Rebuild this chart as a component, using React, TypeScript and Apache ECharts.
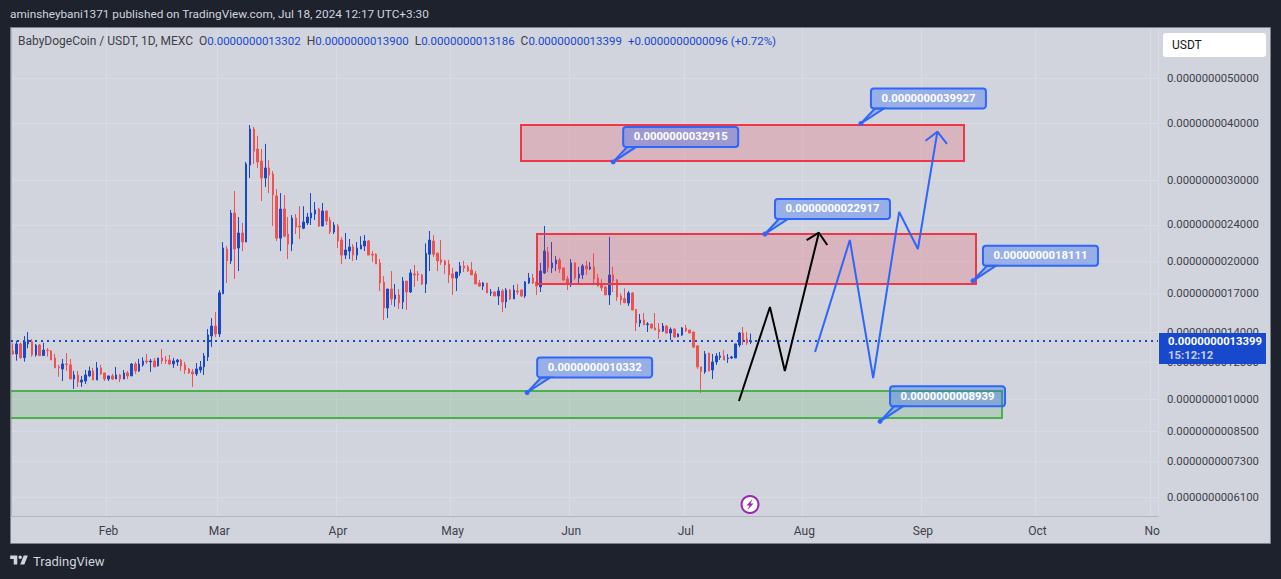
import React, { useEffect, useRef } from "react";
import * as echarts from "echarts";

// prices are in units of 1e-13 USDT, so 13399 reads 0.0000000013399
const PRICE_UNIT_DIGITS = 13;
const priceText = (v: number) => (v / 1e13).toFixed(PRICE_UNIT_DIGITS);

const opens = [12725,12540,13185,12310,13185,13340,12480,13120,12440,12790,12725,12290,11750,11630,11925,11870,11055,11285,10890,10945,11230,11515,11000,11690,11400,11055,11230,11055,11285,11055,11400,11230,11925,11515,11870,12105,12045,12105,11810,12290,12165,12165,11925,12045,12165,11870,11630,11460,11345,11570,11750,12355,13725,14430,13865,16970,21250,20010,25460,21360,23030,22010,32400,38830,35130,33060,30360,31930,30970,27740,22440,25980,22910,21780,24830,23850,23590,24220,24830,25330,25980,23850,25720,24580,23140,23850,22230,20610,21030,21470,20610,21250,21570,22120,20690,20690,19810,17990,15800,17380,16530,16870,16290,18090,17120,18750,18750,18650,17820,20700,22120,20800,20110,20010,19710,18750,18370,18840,19520,19420,19120,18750,17910,17640,17910,17030,17120,16780,17210,16290,17290,16530,17210,17290,16780,17910,18370,18000,17560,18840,20900,19320,19710,20110,19320,18280,17730,19810,18370,18650,19520,19220,19420,18370,17820,17560,16870,18650,18180,16790,16560,16200,17040,15690,14650,14870,14530,14580,14290,14210,14070,14430,13930,14210,13660,13790,14290,14140,14000,13060,11750,11460,12600,11570,12045,12330,12415,12250,12290,12290,13120,13930,13520,13302];
const highs = [13230,13405,13270,13725,14005,13520,13185,13185,13270,12920,12790,12540,11870,12230,12600,12230,11515,11515,11230,11570,11770,11690,12045,11870,11400,11230,11345,11750,11345,11570,11515,11985,12045,12230,12330,12540,12230,12290,12290,12855,12415,12480,12290,12230,12230,12045,11690,11630,11985,12105,12600,14210,15010,15480,17290,22000,21570,25850,28440,24950,24220,32900,39620,39240,37530,35130,36040,33230,31440,28720,28140,27880,24950,25200,25330,26350,26350,25460,28140,26910,26120,26780,25850,24950,24340,24090,22550,23030,22340,21780,22010,22660,22800,22230,21030,20800,20210,18540,17380,19020,17820,17380,18460,18090,19180,19610,19020,18750,21870,23260,22770,20900,22230,20110,20110,19320,18930,19910,20010,19610,19910,19020,18180,18000,17910,17380,17210,17560,17380,17470,17380,17730,17820,17380,18090,18840,18750,19020,19810,23860,21470,22010,20510,20310,19320,18560,20210,19910,19420,19710,20010,19910,20800,18750,18280,17640,22580,19420,18280,17010,17440,17210,17120,15690,15330,15410,14720,14580,15410,14650,14650,14510,14330,14290,13910,14360,14510,14140,14000,13060,11750,12730,12600,12540,12600,12665,12790,12540,12415,13190,14000,14360,14000,13900];
const lows = [12480,12125,12230,12065,12900,12375,12375,12415,12415,12375,12165,11690,11190,10945,11515,11055,10515,10625,10625,10785,11190,11000,11000,11285,10945,10945,11000,11055,10890,11055,11055,11230,11345,11460,11770,11925,11460,11750,11770,11925,11925,11870,11690,11810,11515,11345,11345,10625,11230,11400,11285,12105,12990,13655,13655,16970,17910,19710,18280,19020,21030,22010,30360,32570,31930,27040,29010,28140,23850,22120,21030,22550,20210,21030,22910,22340,23470,23970,23970,24580,23720,23850,23970,22910,22910,21360,19710,20210,20210,20010,20110,21250,21030,20610,19910,19710,17200,14870,15020,16040,15900,15720,15720,15640,17030,17560,18090,17730,17030,19020,20410,19020,19610,18750,17910,16870,17210,18560,18930,18930,18650,17820,17560,17290,17030,16780,16780,16040,15480,15800,16450,16530,16870,16700,16620,17820,17820,16870,17120,18750,18930,18840,19020,18840,18090,17290,17560,18180,17910,18280,18650,19120,17910,17600,17210,16870,16040,17120,16370,16045,16180,15960,15640,14070,14360,14510,14000,14210,14140,13520,14000,13910,13450,13590,13660,13730,14000,13910,12920,11630,10310,11350,11510,11060,11870,12165,12165,11990,12230,12290,12980,13120,13120,13186];
const closes = [12540,13185,12310,13320,13450,12480,13100,12440,12790,12745,12165,11690,11710,11925,11890,11055,11285,10890,11000,11285,11515,11000,11690,11345,11055,11230,11055,11285,11055,11400,11230,11925,11515,11925,12105,12045,12105,11750,12290,12105,12105,11925,12105,12165,11810,11570,11400,11345,11630,11750,12415,13795,14430,13865,17050,21360,20010,25460,21250,23030,22010,32570,38830,34760,32900,30360,31930,30820,27880,22440,25980,22660,21780,24830,23720,23720,24340,24950,25460,25850,23850,25720,24460,23140,23970,22120,20610,21140,21470,20610,21360,21660,22120,20610,20610,19710,17910,15800,17380,16530,16870,16210,18090,17120,18840,18650,18650,17820,20800,22230,20700,20010,19910,19610,18650,18370,18930,19520,19320,19020,18650,17820,17640,17910,17030,17120,16780,17210,16290,17290,16530,17290,17120,16780,18000,18370,17910,17640,19020,21030,19320,19810,20110,19220,18180,17820,19810,18370,18750,19520,19220,19420,18280,17640,17470,16870,18650,18090,16700,16450,16230,17040,15640,14650,14870,14510,14580,14290,14140,14000,14430,13930,14190,13660,13860,14290,14070,13930,12980,11750,11490,12540,11510,12045,12415,12415,12165,12290,12355,13190,13930,13450,13250,13399];

const LAST_PRICE = 13399;
const startDay = Date.UTC(2024, 0, 7);
const categories = Array.from({ length: 300 }, (_, i) =>
  new Date(startDay + i * 86400000).toISOString().slice(0, 10)
);
const monthDates = ["2024-02-01","2024-03-01","2024-04-01","2024-05-01","2024-06-01","2024-07-01","2024-08-01","2024-09-01","2024-10-01","2024-10-31"];
const monthNames = ["Feb","Mar","Apr","May","Jun","Jul","Aug","Sep","Oct","No"];
const priceTicks = [50000,40000,30000,24000,20000,17000,14000,12000,10000,8500,7300,6100];

// x is in days since the first candle's left edge
const blackPath = [[190.4,9900],[198.5,15877],[202.4,11510],[211.3,23060]];
const blackArrow = [[208.1,22230],[211.3,23060],[213.5,21680]];
const bluePath = [[210.3,12664],[219.4,22230],[225.5,11113],[232.3,25590],[237.2,21250],[242.3,38310]];
const blueArrow = [[239.2,36620],[242.3,38310],[244.8,36020]];
const redZoneTop = [133.4,249.3,39625,33070];
const redZoneMid = [137.6,252.4,22912,17823];
const greenZone = [-0.8,259.2,10410,9089];
const callouts = [[157.5,32915],[222.3,39927],[197.2,22917],[251.6,18111],[135,10332],[227.3,8939]];

const LOGO = "M14 6H2v6h6v9h6V6Zm12 15h-7l6-15h7l-6 15Zm-7-9a3 3 0 1 0 0-6 3 3 0 0 0 0 6Z";
echarts.graphic.registerShape("tvlogo", echarts.graphic.extendPath(LOGO as any, {}) as any);

const FONT = "Roboto, sans-serif";
const UP = "#1848CC";
const DOWN = "#EF5350";
const DRAW_BLUE = "#2F66FA";
const TEXT = "#3D404B";

const pathSeries = (data: number[][], color: string) => ({
  type: "line", xAxisIndex: 1, yAxisIndex: 0, data, showSymbol: false, symbol: "none",
  lineStyle: { color, width: 2 }, z: 6, clip: false, silent: true, animation: false,
});
const zoneSeries = (z: number[], color: string, fill: string) => ({
  type: "custom", xAxisIndex: 1, yAxisIndex: 0, data: [z], z: 4, silent: true, clip: false,
  encode: { x: [0, 1], y: [2, 3] },
  renderItem: (_: any, api: any) => {
    const a = api.coord([api.value(0), api.value(2)]);
    const b = api.coord([api.value(1), api.value(3)]);
    return {
      type: "rect",
      shape: { x: Math.round(a[0]), y: Math.round(a[1]), width: Math.round(b[0] - a[0]), height: Math.round(b[1] - a[1]) },
      style: { fill, stroke: color, lineWidth: 2 },
    };
  },
});

export default function App() {
  const ref = useRef<HTMLDivElement>(null);
  useEffect(() => {
    const chart = echarts.init(ref.current!, undefined, { renderer: "svg" });
    const candleData = opens.map((o, i) => [o, closes[i], lows[i], highs[i]]);
    const option: any = {
      animation: false,
      backgroundColor: "#1E222D",
      textStyle: { fontFamily: FONT },
      grid: { left: 11, top: 28, width: 1147, height: 488, containLabel: false },
      xAxis: [
        {
          type: "category", data: categories, boundaryGap: true,
          axisLine: { show: true, lineStyle: { color: "#B2B5BE", width: 1 } },
          axisTick: { show: false, alignWithLabel: true, interval: (_: number, v: string) => monthDates.includes(v) },
          splitLine: { show: true, interval: (_: number, v: string) => monthDates.includes(v), lineStyle: { color: "#D8DBE2", width: 1 } },
          axisLabel: {
            interval: (_: number, v: string) => monthDates.includes(v),
            formatter: (v: string) => monthNames[monthDates.indexOf(v)] ?? "",
            color: TEXT, fontFamily: FONT, fontSize: 12, margin: 9,
          },
        },
        { type: "value", min: 0, max: 300, show: false, splitLine: { show: false } },
      ],
      yAxis: {
        type: "log", logBase: 10, min: 5555, max: 64510, position: "right", scale: true,
        axisLine: { show: true, lineStyle: { color: "#B2B5BE", width: 1 } },
        axisTick: { show: false, customValues: priceTicks },
        splitLine: { show: true, lineStyle: { color: "#D8DBE2", width: 1 } },
        minorSplitLine: { show: false },
        axisLabel: {
          customValues: priceTicks,
          formatter: (v: number) => priceText(Math.round(v)),
          color: TEXT, fontFamily: FONT, fontSize: 11.3, margin: 9, align: "left",
        },
      },
      graphic: [
        { type: "rect", z: -10, silent: true, shape: { x: 10.5, y: 27.5, width: 1260, height: 516 }, style: { fill: "#D1D4DC", stroke: "#7E818C", lineWidth: 1 } },
        { type: "rect", z: 200, silent: true, shape: { x: 0, y: 380, width: 10, height: 50 }, style: { fill: "#1E222D" } },
        { type: "rect", z: 200, silent: true, shape: { x: 10, y: 380, width: 1, height: 50 }, style: { fill: "#7E818C" } },
        { type: "text", z: 100, x: 10, y: 14, style: { text: "aminsheybani1371 published on TradingView.com, Jul 18, 2024 12:17 UTC+3:30", fill: "#D1D4DC", font: `11.8px ${FONT}`, textVerticalAlign: "middle" } },
        {
          type: "text", z: 100, x: 18, y: 41,
          style: {
            textVerticalAlign: "middle", font: `12px ${FONT}`, fill: "#131722",
            text: "{k|BabyDogeCoin / USDT, 1D, MEXC}  {k|O}{v|0.0000000013302}  {k|H}{v|0.0000000013900}  {k|L}{v|0.0000000013186}  {k|C}{v|0.0000000013399}  {v|+0.0000000000096 (+0.72%)}",
            rich: {
              k: { fill: "#3D404B", font: `12px ${FONT}` },
              v: { fill: UP, font: `11.5px ${FONT}` },
            },
          },
        },
        { type: "rect", z: 100, silent: true, shape: { x: 1163, y: 33, width: 103, height: 24, r: 3 }, style: { fill: "#FFFFFF" } },
        { type: "text", z: 101, x: 1172, y: 45, style: { text: "USDT", fill: "#131722", font: `12px ${FONT}`, textVerticalAlign: "middle" } },
        { type: "rect", z: 100, silent: true, shape: { x: 1159, y: 333, width: 107, height: 31 }, style: { fill: UP } },
        { type: "text", z: 101, x: 1168, y: 341.5, style: { text: priceText(LAST_PRICE), fill: "#FFFFFF", font: `bold 11.3px ${FONT}`, textVerticalAlign: "middle" } },
        { type: "text", z: 101, x: 1168, y: 355.5, style: { text: "15:12:12", fill: "#C5CEF0", font: `bold 11.3px ${FONT}`, textVerticalAlign: "middle" } },
        { type: "circle", z: 100, silent: true, shape: { cx: 750, cy: 504.5, r: 8.5 }, style: { fill: "#FFFFFF", stroke: "#9C27B0", lineWidth: 2 } },
        { type: "polygon", z: 101, silent: true, shape: { points: [[752.5,499],[746.5,505.5],[749.5,505.5],[747.5,510],[753.5,503.5],[750.5,503.5]] }, style: { fill: "#9C27B0" } },
        { type: "tvlogo", z: 100, x: 9, y: 552, scaleX: 0.59, scaleY: 0.59, silent: true, style: { fill: "#D1D4DC" } },
        { type: "text", z: 100, x: 33, y: 561.5, style: { text: "TradingView", fill: "#D1D4DC", font: `13px ${FONT}`, textVerticalAlign: "middle" } },
      ],
      series: [
        {
          type: "candlestick", xAxisIndex: 0, yAxisIndex: 0, data: candleData, barWidth: 2, z: 3, silent: true,
          itemStyle: { color: UP, color0: DOWN, borderColor: UP, borderColor0: DOWN, borderWidth: 1 },
          markLine: {
            silent: true, symbol: "none", label: { show: false }, animation: false,
            lineStyle: { color: UP, type: [2, 4], width: 2 },
            data: [{ yAxis: LAST_PRICE }],
          },
        },
        zoneSeries(redZoneTop, "#F23645", "rgba(242,54,69,0.2)"),
        zoneSeries(redZoneMid, "#F23645", "rgba(242,54,69,0.2)"),
        zoneSeries(greenZone, "#4CAF50", "rgba(76,175,80,0.2)"),
        pathSeries(blackPath, "#000000"),
        pathSeries(blackArrow, "#000000"),
        pathSeries(bluePath, DRAW_BLUE),
        pathSeries(blueArrow, DRAW_BLUE),
        {
          type: "custom", xAxisIndex: 1, yAxisIndex: 0, data: callouts, z: 8, clip: false, silent: true,
          encode: { x: 0, y: 1 },
          renderItem: (_: any, api: any) => {
            const [ax, ay] = api.coord([api.value(0), api.value(1)]);
            const boxX = ax + 10, boxY = ay - 35, boxW = 115, boxH = 20;
            const stroke = { stroke: DRAW_BLUE, lineWidth: 2 };
            return {
              type: "group",
              children: [
                { type: "polygon", shape: { points: [[ax, ay], [boxX + 4, boxY + boxH], [boxX + 13, boxY + boxH]] }, style: { fill: "rgba(47,102,250,0.3)", ...stroke } },
                { type: "rect", shape: { x: boxX, y: boxY, width: boxW, height: boxH, r: 3 }, style: { fill: "rgba(47,102,250,0.35)", ...stroke } },
                { type: "circle", shape: { cx: ax, cy: ay, r: 2.5 }, style: { fill: DRAW_BLUE } },
                { type: "text", style: { text: priceText(api.value(1)), x: boxX + boxW / 2, y: boxY + boxH / 2, fill: "#FFFFFF", font: `bold 11.3px ${FONT}`, textAlign: "center", textVerticalAlign: "middle" } },
              ],
            };
          },
        },
      ],
    };
    chart.setOption(option);
    return () => chart.dispose();
  }, []);
  return <div ref={ref} style={{ position: "fixed", left: 0, top: 0, width: 1281, height: 579 }} />;
}
